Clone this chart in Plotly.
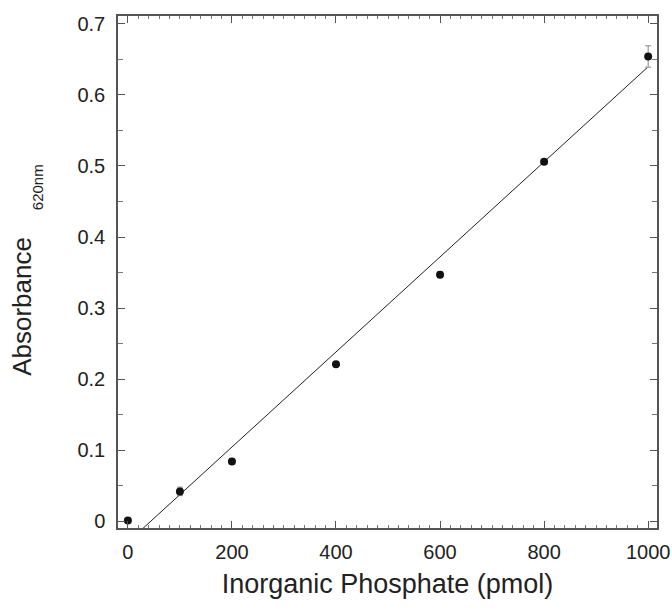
import plotly.graph_objects as go

# standard curve: inorganic phosphate vs absorbance
phosphate_pmol = [0, 100, 200, 400, 600, 800, 1000]
absorbance = [0.001, 0.042, 0.084, 0.221, 0.347, 0.506, 0.654]
absorbance_err = [0.002, 0.006, 0.003, 0.003, 0.004, 0.003, 0.015]

# linear fit shown in the figure
fit_slope = 0.000669
fit_intercept = -0.0294
fit_x = [29, 998]
fit_y = [fit_slope * x + fit_intercept for x in fit_x]

font = "Liberation Sans, Arial, sans-serif"

fig = go.Figure()
fig.add_trace(go.Scatter(
    x=fit_x, y=fit_y, mode='lines',
    line=dict(color='#222', width=1),
    showlegend=False
))
fig.add_trace(go.Scatter(
    x=phosphate_pmol, y=absorbance, mode='markers',
    marker=dict(color='#111', size=8),
    error_y=dict(type='data', array=absorbance_err, color='#888',
                 thickness=1, width=3),
    showlegend=False
))

axis_common = dict(
    showline=True, linecolor='#555', linewidth=1.5, mirror='ticks',
    ticks='inside', ticklen=7, tickcolor='#555', tickwidth=1,
    showgrid=False, zeroline=False, automargin=False,
    tickfont=dict(family=font, size=20, color='#222'),
)

fig.update_xaxes(
    range=[-19, 1017], tickvals=[0, 200, 400, 600, 800, 1000],
    minor=dict(dtick=20, tick0=0, ticks='inside', ticklen=3,
               tickcolor='#777'),
    ticklabelstandoff=5, ticklabeloverflow='allow',
    title=dict(text="Inorganic Phosphate (pmol)", standoff=12,
               font=dict(family=font, size=27, color='#222')),
    **axis_common
)
fig.update_yaxes(
    range=[-0.0095, 0.711], tickvals=[0, 0.1, 0.2, 0.3, 0.4, 0.5, 0.6, 0.7],
    ticktext=["0", "0.1", "0.2", "0.3", "0.4", "0.5", "0.6", "0.7"],
    minor=dict(dtick=0.05, tick0=0, ticks='inside', ticklen=5,
               tickcolor='#777'),
    ticklabelstandoff=7,
    **axis_common
)

# y title with a lowered subscript, placed by hand
fig.add_annotation(text="Absorbance", textangle=-90, showarrow=False,
                   xref='paper', yref='paper', x=-0.178, y=0.432,
                   xanchor='center', yanchor='middle',
                   font=dict(family=font, size=26, color='#222'))
fig.add_annotation(text="620nm", textangle=-90, showarrow=False,
                   xref='paper', yref='paper', x=-0.15, y=0.666,
                   xanchor='center', yanchor='middle',
                   font=dict(family=font, size=15, color='#222'))

fig.update_layout(
    width=672, height=611,
    template='simple_white',
    plot_bgcolor='white', paper_bgcolor='white',
    margin=dict(l=118, r=15, t=16, b=83),
)

# drop the default 8px body margin so the figure fills the window
fig.write_html("out.html",
               config={'displayModeBar': False},
               post_script="document.body.style.margin='0';"
                           "document.body.style.overflow='hidden';")
